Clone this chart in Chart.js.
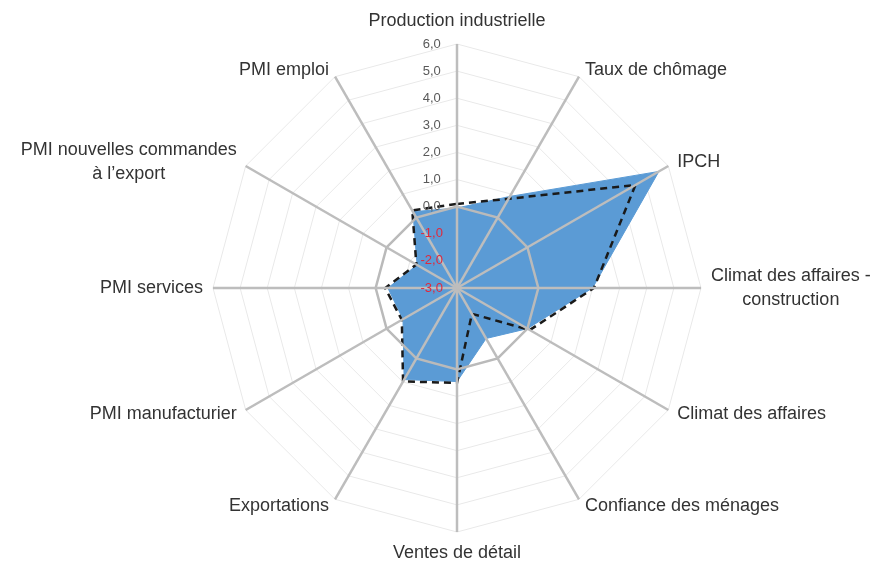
<!DOCTYPE html>
<html>
<head>
<meta charset="utf-8">
<script src="https://cdn.jsdelivr.net/npm/chart.js@4/dist/chart.umd.min.js"></script>
<style>
  html, body { margin: 0; padding: 0; background: #fff; }
  #wrap { width: 885px; height: 564px; }
</style>
</head>
<body>
<div id="wrap"><canvas id="chartCanvas"></canvas></div>
<script>
const categories = [
  'Production industrielle',
  'Taux de chômage',
  'IPCH',
  ['Climat des affaires -', 'construction'],
  'Climat des affaires',
  'Confiance des ménages',
  'Ventes de détail',
  'Exportations',
  'PMI manufacturier',
  'PMI services',
  ['PMI nouvelles commandes', 'à l\u2019export'],
  'PMI emploi'
];
const currentValues = [-0.05, 0.9, 5.6, 2.0, 0.0, -0.85, 0.45, 0.9, -0.7, -0.45, -1.3, 0.25];
const previousValues = [0.1, 0.8, 4.6, 2.05, 0.1, -1.9, 0.5, 0.98, -0.65, -0.35, -1.27, 0.3];
const scaleMin = -3;
const scaleMax = 6;
const tickStep = 1;

const FONT = 'Liberation Sans, Arial, sans-serif';
const tickFont = { family: FONT, size: 13 };

function fmtTick(v) {
  // right-align the label left of the axis (labels are centred by Chart.js)
  return v.toFixed(1).replace('.', ',') + '              ';
}

function baseScale() {
  return {
    type: 'radialLinear',
    min: scaleMin,
    max: scaleMax,
    startAngle: 0,
    ticks: {
      stepSize: tickStep,
      font: tickFont,
      showLabelBackdrop: false,
      backdropPadding: 0,
      callback: fmtTick
    },
    pointLabels: { display: false },
    grid: { circular: false },
    angleLines: { display: false }
  };
}

// bottom scale: faint grid
const rBack = baseScale();
rBack.ticks.color = 'transparent';
rBack.grid.color = '#e9e9e9';
rBack.grid.lineWidth = 1;

// top scale: spokes, zero line and tick labels drawn over the series
const rFront = baseScale();
rFront.ticks.z = 1;
rFront.ticks.color = ctx => ctx.tick && ctx.tick.value < 0 ? '#e0283c' : '#595959';
rFront.grid.z = 1;
rFront.grid.color = ctx => ctx.tick && ctx.tick.value === 0 ? '#bababa' : 'transparent';
rFront.grid.lineWidth = 2.5;
rFront.angleLines = { display: true, color: '#bdbdbd', lineWidth: 2.5 };

// category labels placed Excel-style (block centred on the spoke end)
const categoryLabels = {
  id: 'categoryLabels',
  afterDraw(chart) {
    const s = chart.scales.r;
    const c = chart.ctx;
    const lineH = 24;
    c.save();
    c.font = '18px ' + FONT;
    c.fillStyle = '#333333';
    c.textBaseline = 'middle';
    chart.data.labels.forEach((lab, i) => {
      const lines = Array.isArray(lab) ? lab : [lab];
      const p = s.getPointPosition(i, s.drawingArea + 8);
      const dx = p.x - s.xCenter;
      const dy = p.y - s.yCenter;
      const w = Math.max(...lines.map(l => c.measureText(l).width));
      let cx;
      if (Math.abs(dx) < 2) cx = p.x;
      else if (dx > 0) cx = p.x + 2 + w / 2;
      else cx = p.x - 2 - w / 2;
      let cy = p.y;
      if (Math.abs(dx) < 2) cy = dy < 0 ? p.y - 15 : p.y + 13;
      const top = cy - (lines.length - 1) * lineH / 2;
      c.textAlign = 'center';
      lines.forEach((l, k) => c.fillText(l, cx, top + k * lineH));
    });
    c.restore();
  }
};

const ctx = document.getElementById('chartCanvas').getContext('2d');
new Chart(ctx, {
  type: 'radar',
  data: {
    labels: categories,
    datasets: [
      {
        label: 'Précédent',
        data: previousValues,
        rAxisID: 'r',
        fill: false,
        clip: false,
        borderColor: '#1a1a1a',
        borderWidth: 2.5,
        borderDash: [7, 5],
        pointRadius: 0
      },
      {
        label: 'Actuel',
        data: currentValues,
        rAxisID: 'r',
        fill: 'start',
        clip: false,
        backgroundColor: '#5b9bd5',
        borderColor: '#5b9bd5',
        borderWidth: 1,
        pointRadius: 0
      }
    ]
  },
  options: {
    responsive: true,
    maintainAspectRatio: false,
    animation: false,
    layout: { padding: { top: 37, bottom: 25, left: 29, right: 0 } },
    plugins: { legend: { display: false }, tooltip: { enabled: false } },
    scales: { r: rBack, r2: rFront }
  },
  plugins: [categoryLabels]
});
</script>
</body>
</html>
